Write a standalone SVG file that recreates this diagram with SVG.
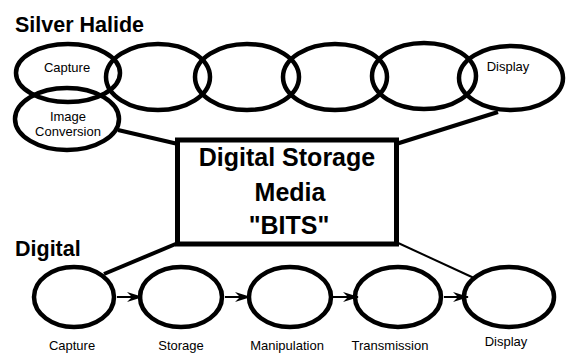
<svg xmlns="http://www.w3.org/2000/svg" width="566" height="354" viewBox="0 0 566 354">
  <style>
    .ring { fill: none; stroke: #000; stroke-width: 4.5; }
    .box { fill: #fff; stroke: #000; stroke-width: 5; }
    .link { fill: none; stroke: #000; stroke-width: 4; }
    .thin { fill: none; stroke: #000; stroke-width: 2; }
    .flow { fill: none; stroke: #000; stroke-width: 2; }
    .title { font-family: "Liberation Sans", Arial, sans-serif; font-weight: bold; font-size: 21.5px; fill: #000; }
    .big { font-family: "Liberation Sans", Arial, sans-serif; font-weight: bold; font-size: 25px; fill: #000; text-anchor: middle; }
    .lbl { font-family: "Liberation Sans", Arial, sans-serif; font-size: 13px; fill: #000; text-anchor: middle; }
  </style>
  <defs>
    <marker id="stealth" viewBox="0 0 16 10" refX="15" refY="5" markerWidth="16" markerHeight="10" markerUnits="userSpaceOnUse" orient="auto">
      <path d="M16 5 L0 0 L5 5 L0 10 Z" fill="#000"/>
    </marker>
  </defs>

  <rect width="566" height="354" fill="#fff"/>

  <text class="title" x="15" y="32">Silver Halide</text>
  <text class="title" x="15" y="256">Digital</text>

  <!-- connectors -->
  <g id="connectors">
    <line class="link" x1="118" y1="130" x2="178" y2="144"/>
    <line class="link" x1="498" y1="112" x2="396" y2="144"/>
    <line class="link" x1="178" y1="243" x2="104" y2="274"/>
    <line class="thin" x1="396" y1="242" x2="474" y2="278"/>
    <line class="flow" x1="117" y1="297" x2="142" y2="297" marker-end="url(#stealth)"/>
    <line class="flow" x1="225" y1="297" x2="250" y2="297" marker-end="url(#stealth)"/>
    <line class="flow" x1="333" y1="297" x2="358" y2="297" marker-end="url(#stealth)"/>
    <line class="flow" x1="444" y1="297" x2="468" y2="297" marker-end="url(#stealth)"/>
  </g>

  <!-- silver halide chain -->
  <g id="sh-capture">
    <ellipse class="ring" cx="68" cy="73" rx="52" ry="29"/>
    <text class="lbl" x="67" y="72">Capture</text>
  </g>
  <g id="sh-2"><ellipse class="ring" cx="158" cy="77" rx="52" ry="33"/></g>
  <g id="sh-3"><ellipse class="ring" cx="247" cy="77" rx="52" ry="33"/></g>
  <g id="sh-4"><ellipse class="ring" cx="335" cy="77" rx="52" ry="33"/></g>
  <g id="sh-5"><ellipse class="ring" cx="424" cy="76" rx="52" ry="33"/></g>
  <g id="sh-display">
    <ellipse class="ring" cx="511" cy="78" rx="52" ry="32"/>
    <text class="lbl" x="508" y="71">Display</text>
  </g>
  <g id="sh-conversion">
    <ellipse class="ring" cx="67" cy="119" rx="52" ry="31"/>
    <text class="lbl" x="68" y="121">Image</text>
    <text class="lbl" x="68" y="136">Conversion</text>
  </g>

  <!-- central storage -->
  <g id="storage-media">
    <rect class="box" x="177.5" y="140" width="219" height="104"/>
    <text class="big" x="287" y="166">Digital Storage</text>
    <text class="big" x="290" y="201">Media</text>
    <text class="big" x="289" y="234">"BITS"</text>
  </g>

  <!-- digital chain -->
  <g id="dg-capture">
    <ellipse class="ring" cx="74" cy="297" rx="40" ry="30"/>
    <text class="lbl" x="72" y="350">Capture</text>
  </g>
  <g id="dg-storage">
    <ellipse class="ring" cx="181" cy="297" rx="41" ry="30"/>
    <text class="lbl" x="181" y="350">Storage</text>
  </g>
  <g id="dg-manipulation">
    <ellipse class="ring" cx="290" cy="297" rx="41" ry="30"/>
    <text class="lbl" x="287" y="350">Manipulation</text>
  </g>
  <g id="dg-transmission">
    <ellipse class="ring" cx="398" cy="297" rx="43" ry="30"/>
    <text class="lbl" x="390" y="350">Transmission</text>
  </g>
  <g id="dg-display">
    <ellipse class="ring" cx="509" cy="297" rx="45" ry="30"/>
    <text class="lbl" x="506" y="346">Display</text>
  </g>
</svg>
